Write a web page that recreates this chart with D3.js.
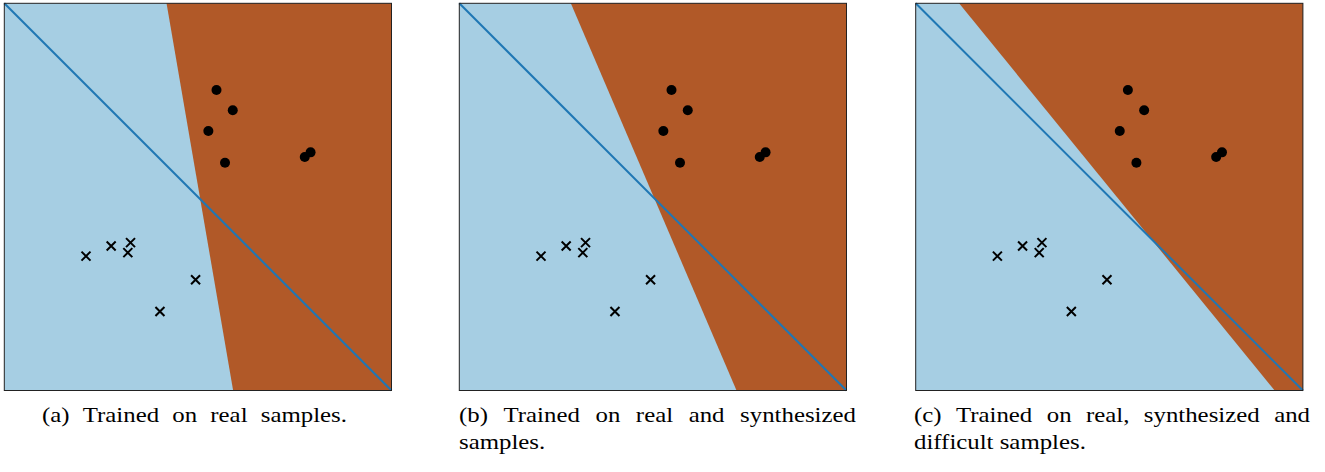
<!DOCTYPE html>
<html><head><meta charset="utf-8">
<script src="https://cdn.jsdelivr.net/npm/d3@7"></script>
<style>body{margin:0;background:#fff}svg{display:block}</style>
</head><body>
<svg id="c" width="1325" height="472"></svg>
<script>
// Data (domain 0..1 on both axes, y upward)
const circlesX = [0.548, 0.590, 0.527, 0.570, 0.776, 0.791];
const circlesY = [0.776, 0.724, 0.670, 0.588, 0.603, 0.615];
const crossesX = [0.211, 0.276, 0.326, 0.319, 0.494, 0.402];
const crossesY = [0.347, 0.373, 0.382, 0.356, 0.286, 0.204];
// Reference separating line (corner to corner)
const lineX = [0, 1];
const lineY = [1, 0];
// Decision boundary per panel: x where boundary meets top (y=1) and bottom (y=0)
const panels = ["a", "b", "c"];
const boundaryTopX = [0.419, 0.288, 0.112];
const boundaryBottomX = [0.591, 0.716, 0.927];
const captionLine1 = ["(a) Trained on real samples.", "(b) Trained on real and synthesized", "(c) Trained on real, synthesized and"];
const captionLine2 = ["", "samples.", "difficult samples."];

const svg = d3.select("#c");
const panelLeft = [4.3, 459.3, 915.7];
const panelSize = 387.2, panelTop = 3.3;
const capX = [42, 459, 914];
const capW1 = [305, 397, 396];
const font = "Liberation Serif, serif", fs = 21;

function measure(txt) {
  const t = svg.append("text").attr("font-family", font).attr("font-size", fs).text(txt);
  const w = t.node().getComputedTextLength(); t.remove(); return w;
}
const sx = 172 / measure(captionLine2[2]);

function put(txt, px, py) {
  svg.append("text").attr("transform", `translate(${px},${py}) scale(${sx},1)`).text(txt)
    .attr("font-family", font).attr("font-size", fs).attr("fill", "#000");
}

panels.forEach((p, i) => {
  const x = d3.scaleLinear().domain([0, 1]).range([panelLeft[i], panelLeft[i] + panelSize]);
  const y = d3.scaleLinear().domain([0, 1]).range([panelTop + panelSize, panelTop]);
  const g = svg.append("g");
  g.append("rect").attr("x", x(0)).attr("y", y(1)).attr("width", x(1) - x(0)).attr("height", y(0) - y(1)).attr("fill", "#a6cee3");
  const poly = [[boundaryTopX[i], 1], [1, 1], [1, 0], [boundaryBottomX[i], 0]];
  g.append("path").attr("d", d3.line().x(d => x(d[0])).y(d => y(d[1]))(poly) + "Z").attr("fill", "#b15928");
  g.append("path").attr("d", d3.line().x(d => x(d[0])).y(d => y(d[1]))(lineX.map((v, k) => [v, lineY[k]])))
    .attr("stroke", "#1f77b4").attr("stroke-width", 2).attr("fill", "none");
  circlesX.forEach((cx, k) => {
    g.append("circle").attr("cx", x(cx)).attr("cy", y(circlesY[k])).attr("r", 5).attr("fill", "#000");
  });
  const s = 4.5;
  crossesX.forEach((cx, k) => {
    const px = x(cx), py = y(crossesY[k]);
    g.append("path").attr("d", `M${px - s},${py - s}L${px + s},${py + s}M${px - s},${py + s}L${px + s},${py - s}`)
      .attr("stroke", "#000").attr("stroke-width", 2);
  });
  g.append("rect").attr("x", x(0)).attr("y", y(1)).attr("width", x(1) - x(0)).attr("height", y(0) - y(1))
    .attr("fill", "none").attr("stroke", "#222").attr("stroke-width", 1);

  // caption line 1, justified to target width
  const words = captionLine1[i].split(" ");
  const widths = words.map(w => measure(w) * sx);
  const gap = (capW1[i] - d3.sum(widths)) / (words.length - 1);
  let cx = capX[i];
  words.forEach((w, k) => { put(w, cx, 422); cx += widths[k] + gap; });
  if (captionLine2[i]) put(captionLine2[i], capX[i], 449);
});
</script>
</body></html>
